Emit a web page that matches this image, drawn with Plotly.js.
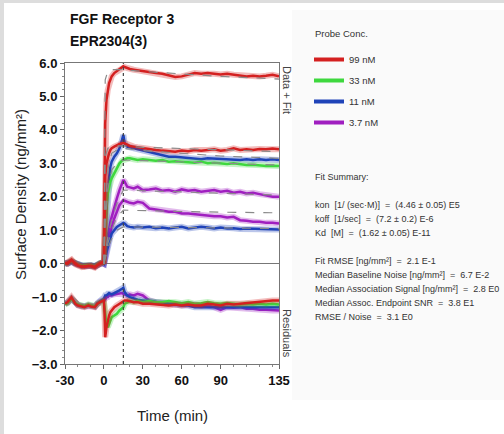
<!DOCTYPE html>
<html><head><meta charset="utf-8">
<script src="https://cdn.plot.ly/plotly-3.0.1.min.js"></script>
<style>html,body{margin:0;padding:0;background:#fff}#chart{width:504px;height:434px}</style>
</head><body><div id="chart"></div>
<script>
// time points (min)
const T = [-30,-28,-25,-22,-20,-17,-15,-12,-10,-7,-5,-3,-1,0,0.5,1,2,3,4,5,6,8,10,12,14,15,16,18,20,23,26,30,35,40,45,50,55,60,65,70,75,80,85,90,95,100,105,110,115,120,125,130,135];

// sensorgram data (ng/mm²)
const red99a   = [0.0,0.03,0.12,-0.02,-0.06,-0.08,-0.1,-0.07,-0.06,-0.1,-0.04,0.02,0.05,0.0,2.5,4.2,4.9,5.2,5.4,5.5,5.6,5.7,5.75,5.8,5.85,5.9,5.88,5.85,5.82,5.8,5.78,5.75,5.72,5.7,5.68,5.62,5.58,5.6,5.65,5.7,5.68,5.7,5.68,5.66,5.68,5.65,5.64,5.6,5.62,5.6,5.62,5.65,5.6];
const red99b   = [0.02,0.0,0.1,0.0,-0.05,-0.1,-0.08,-0.06,-0.08,-0.12,-0.05,0.0,0.04,0.0,1.5,2.6,3.0,3.2,3.3,3.4,3.45,3.5,3.55,3.58,3.6,3.62,3.6,3.55,3.52,3.5,3.48,3.45,3.42,3.4,3.38,3.36,3.35,3.38,3.36,3.4,3.38,3.4,3.42,3.38,3.4,3.45,3.4,3.42,3.4,3.43,3.42,3.44,3.42];
const green33  = [-0.02,0.02,0.08,0.02,-0.03,-0.06,-0.05,-0.04,-0.05,-0.08,-0.02,0.02,0.03,0.0,0.5,1.2,1.8,2.1,2.3,2.45,2.55,2.7,2.85,3.0,3.08,3.1,3.12,3.15,3.15,3.12,3.1,3.12,3.1,3.08,3.1,3.05,3.06,3.05,3.04,3.02,3.05,3.0,3.02,3.0,2.98,3.0,2.98,2.95,2.96,2.94,2.92,2.93,2.92];
const blue11a  = [0.0,0.01,0.06,0.0,-0.04,-0.07,-0.06,-0.05,-0.06,-0.08,-0.03,0.01,0.02,0.0,0.3,0.8,1.6,2.2,2.6,2.9,3.05,3.2,3.3,3.45,3.7,3.85,3.6,3.5,3.48,3.45,3.42,3.4,3.35,3.3,3.25,3.2,3.2,3.18,3.15,3.15,3.12,3.15,3.14,3.15,3.12,3.12,3.1,3.12,3.1,3.12,3.1,3.12,3.1];
const blue11b  = [0.01,0.0,0.05,-0.01,-0.04,-0.06,-0.07,-0.04,-0.05,-0.07,-0.02,0.01,0.02,0.0,0.05,0.15,0.35,0.5,0.65,0.8,0.9,1.0,1.1,1.15,1.2,1.22,1.2,1.12,1.1,1.08,1.1,1.08,1.1,1.06,1.08,1.05,1.08,1.1,1.05,1.08,1.1,1.08,1.05,1.08,1.05,1.06,1.04,1.05,1.04,1.03,1.02,1.03,1.02];
const purple37a= [0.0,0.02,0.07,0.01,-0.03,-0.06,-0.06,-0.05,-0.06,-0.09,-0.03,0.0,0.02,0.0,0.1,0.3,0.6,0.85,1.05,1.25,1.4,1.7,1.95,2.2,2.4,2.5,2.45,2.3,2.28,2.25,2.3,2.2,2.22,2.25,2.18,2.2,2.15,2.22,2.18,2.2,2.15,2.18,2.2,2.15,2.18,2.12,2.15,2.1,2.12,2.08,2.05,2.0,2.0];
const purple37b= [0.01,0.0,0.06,0.0,-0.04,-0.05,-0.07,-0.05,-0.05,-0.08,-0.02,0.01,0.02,0.0,0.05,0.2,0.45,0.65,0.8,0.95,1.1,1.35,1.55,1.75,1.85,1.9,1.88,1.85,1.82,1.8,1.85,1.82,1.65,1.62,1.58,1.55,1.55,1.5,1.5,1.48,1.45,1.45,1.42,1.42,1.38,1.4,1.3,1.28,1.25,1.25,1.22,1.22,1.2];

// fit curves
const FT = [0,1,3,6,10,15,30,60,90,135];
const fitRed99a   = [0,5.5,5.75,5.8,5.8,5.8,5.75,5.68,5.6,5.52];
const fitRed99b   = [0,3.2,3.45,3.5,3.52,3.52,3.48,3.44,3.4,3.35];
const fitGreen33  = [0,1.2,2.2,2.8,3.0,3.1,3.08,3.04,3.0,2.95];
const fitBlue11a  = [0,1.5,2.8,3.3,3.4,3.45,3.38,3.3,3.22,3.15];
const fitBlue11b  = [0,0.15,0.45,0.75,1.0,1.1,1.09,1.08,1.07,1.05];
const fitPurple37a= [0,0.3,0.8,1.3,1.8,2.2,2.18,2.14,2.1,2.05];
const fitPurple37b= [0,0.2,0.6,1.0,1.4,1.6,1.58,1.56,1.54,1.52];

// residuals (plotted with offset)
const resRed    = [-1.2,-1.15,-1.0,-1.2,-1.25,-1.28,-1.3,-1.25,-1.28,-1.3,-1.2,-1.15,-1.1,-1.1,-1.5,-2.2,-1.9,-1.7,-1.55,-1.45,-1.4,-1.3,-1.25,-1.2,-1.15,-1.12,-1.1,-1.1,-1.12,-1.15,-1.15,-1.2,-1.2,-1.22,-1.22,-1.25,-1.22,-1.25,-1.22,-1.25,-1.25,-1.2,-1.22,-1.25,-1.2,-1.22,-1.2,-1.18,-1.15,-1.12,-1.12,-1.1,-1.1];
const resGreen  = [-1.22,-1.18,-1.05,-1.18,-1.22,-1.25,-1.27,-1.22,-1.25,-1.27,-1.2,-1.15,-1.12,-1.15,-1.3,-1.6,-1.85,-1.9,-1.8,-1.7,-1.6,-1.55,-1.5,-1.4,-1.35,-1.3,-1.2,-1.15,-1.12,-1.15,-1.12,-1.15,-1.12,-1.15,-1.15,-1.12,-1.15,-1.18,-1.15,-1.2,-1.18,-1.15,-1.18,-1.2,-1.18,-1.2,-1.22,-1.2,-1.22,-1.2,-1.22,-1.2,-1.22];
const resBlue   = [-1.2,-1.17,-1.05,-1.2,-1.23,-1.26,-1.28,-1.24,-1.26,-1.28,-1.18,-1.12,-1.08,-1.05,-1.0,-0.95,-0.95,-0.9,-0.88,-0.9,-0.92,-0.88,-0.85,-0.8,-0.75,-0.72,-0.85,-0.95,-1.0,-1.05,-1.08,-1.1,-1.12,-1.15,-1.18,-1.2,-1.22,-1.25,-1.25,-1.3,-1.3,-1.28,-1.3,-1.3,-1.28,-1.3,-1.28,-1.3,-1.3,-1.28,-1.3,-1.3,-1.3];
const resPurple = [-1.18,-1.16,-1.04,-1.19,-1.24,-1.27,-1.27,-1.23,-1.27,-1.29,-1.19,-1.13,-1.1,-1.08,-1.1,-1.05,-1.0,-1.0,-0.95,-0.95,-0.95,-0.92,-0.9,-0.9,-0.88,-0.9,-0.92,-0.95,-0.92,-0.95,-0.9,-0.95,-1.1,-1.15,-1.18,-1.2,-1.2,-1.22,-1.2,-1.22,-1.25,-1.25,-1.3,-1.38,-1.3,-1.32,-1.3,-1.35,-1.35,-1.38,-1.38,-1.4,-1.4];

const concLabels = ['99 nM','33 nM','11 nM','3.7 nM'];
const concColors = ['#d42020','#3ed83e','#1f43b8','#a01fc0'];

const summaryLines = [
  'Fit Summary:',
  '',
  'kon  [1/ (sec·M)]  =  (4.46 ± 0.05) E5',
  'koff  [1/sec]  =  (7.2 ± 0.2) E-6',
  'Kd  [M]  =  (1.62 ± 0.05) E-11',
  '',
  'Fit RMSE [ng/mm²]  =  2.1 E-1',
  'Median Baseline Noise [ng/mm²]  =  6.7 E-2',
  'Median Association Signal [ng/mm²]  =  2.8 E0',
  'Median Assoc. Endpoint SNR  =  3.8 E1',
  'RMSE / Noise  =  3.1 E0'
];

// ---- build traces ----
const L = 65, R = 279, TOP = 63, BOT = 364;
const px2x = p => (p - L) / (R - L);
const px2y = p => (BOT - p) / (BOT - TOP);

const traces = [];
function dataTrace(y, ci) {
  // soft halo under the line
  traces.push({x: T, y: y, type: 'scatter', mode: 'lines', showlegend: false, opacity: 0.3,
    line: {color: concColors[ci], width: 6}, hoverinfo: 'skip'});
  traces.push({x: T, y: y, type: 'scatter', mode: 'lines', name: concLabels[ci],
    line: {color: concColors[ci], width: 2.5}, showlegend: false, hoverinfo: 'skip'});
}
function fitTrace(y) {
  traces.push({x: FT, y: y, type: 'scatter', mode: 'lines', showlegend: false,
    line: {color: '#8a8a8a', width: 1.2, dash: 'dash'}, hoverinfo: 'skip'});
}
// order: purple, blue, green, red (red on top)
dataTrace(purple37b, 3);
dataTrace(purple37a, 3);
dataTrace(blue11b, 2);
dataTrace(blue11a, 2);
dataTrace(green33, 1);
dataTrace(red99b, 0);
dataTrace(red99a, 0);
[fitRed99a, fitRed99b, fitGreen33, fitBlue11a, fitBlue11b, fitPurple37a, fitPurple37b].forEach(fitTrace);
dataTrace(resPurple, 3);
dataTrace(resBlue, 2);
dataTrace(resGreen, 1);
dataTrace(resRed, 0);
// legend entries (order red, green, blue, purple)
[0,1,2,3].forEach(ci => traces.push({x: [null], y: [null], type: 'scatter', mode: 'lines',
  name: concLabels[ci], line: {color: concColors[ci], width: 4}, showlegend: true, legendgroup: 'g' + ci}));

const sans = 'Liberation Sans, Arial, sans-serif';

function ann(text, xp, yp, font, extra) {
  return Object.assign({text: text, x: px2x(xp), y: px2y(yp), xref: 'paper', yref: 'paper',
    xanchor: 'center', yanchor: 'middle', showarrow: false, font: font}, extra || {});
}
const annotations = [
  ann('<b>FGF Receptor 3</b>', 68, 19, {family: sans, size: 14, color: '#111'}, {xanchor: 'left'}),
  ann('<b>EPR2304(3)</b>', 68, 41, {family: sans, size: 14, color: '#111'}, {xanchor: 'left'}),
  ann('Surface Density (ng/mm²)', 20, 195, {family: sans, size: 15, color: '#222'}, {textangle: -90}),
  ann('Time (min)', 172, 415, {family: sans, size: 15, color: '#222'}),
  ann('Data + Fit', 287, 90, {family: sans, size: 11, color: '#444'}, {textangle: 90}),
  ann('Residuals', 287, 333, {family: sans, size: 11, color: '#444'}, {textangle: 90}),
  ann('Probe Conc.', 313, 33, {family: sans, size: 9.5, color: '#333'}, {xanchor: 'left'})
];
summaryLines.forEach((s, i) => {
  if (!s) return;
  annotations.push(ann(s, 313, 177 + i * 14, {family: sans, size: 9, color: '#333'}, {xanchor: 'left'}));
});

const shapes = [
  {type: 'rect', xref: 'paper', yref: 'paper', x0: px2x(292), x1: px2x(504), y0: px2y(400), y1: px2y(10),
    fillcolor: '#fafafa', line: {width: 0}, layer: 'below'},
  {type: 'rect', xref: 'paper', yref: 'paper', x0: px2x(0), x1: px2x(504), y0: px2y(3), y1: px2y(0),
    fillcolor: '#dddddd', line: {width: 0}, layer: 'below'},
  {type: 'rect', xref: 'paper', yref: 'paper', x0: px2x(0), x1: px2x(4), y0: px2y(434), y1: px2y(0),
    fillcolor: '#dddddd', line: {width: 0}, layer: 'below'},
  {type: 'line', xref: 'x', yref: 'paper', x0: 15, x1: 15, y0: 0, y1: 1,
    line: {color: '#444', width: 1.2, dash: 'dot'}}
];

const layout = {
  width: 504, height: 434,
  margin: {l: L, r: 504 - R, t: TOP, b: 434 - BOT, pad: 0},
  paper_bgcolor: 'rgba(0,0,0,0)', plot_bgcolor: '#ffffff',
  showlegend: true,
  legend: {x: px2x(309), y: px2y(45), xanchor: 'left', yanchor: 'top', bgcolor: 'rgba(0,0,0,0)',
    font: {family: sans, size: 9.5, color: '#333'}, traceorder: 'grouped', tracegroupgap: 2, itemwidth: 30},
  xaxis: {range: [-30, 135], tickvals: [-30, 0, 30, 60, 90, 135], ticktext: ['-30','0','30','60','90','135'],
    ticks: 'outside', ticklen: 4, tickcolor: '#666', showgrid: false, zeroline: false,
    showline: true, linecolor: '#777', linewidth: 1, mirror: true,
    tickfont: {family: sans, size: 13, color: '#111', weight: 'bold'},
    minor: {dtick: 10, ticklen: 2, ticks: 'outside', tickcolor: '#888'}},
  yaxis: {range: [-3, 6], dtick: 1, tickformat: '.1f', ticks: 'outside', ticklen: 4, tickcolor: '#666',
    showgrid: false, zeroline: true, zerolinecolor: '#777', zerolinewidth: 1.5,
    showline: true, linecolor: '#777', linewidth: 1, mirror: true,
    tickfont: {family: sans, size: 13, color: '#111', weight: 'bold'},
    minor: {dtick: 0.2, ticklen: 2, ticks: 'outside', tickcolor: '#888'}},
  annotations: annotations,
  shapes: shapes
};

Plotly.newPlot('chart', traces, layout, {displayModeBar: false, staticPlot: true});
</script></body></html>
